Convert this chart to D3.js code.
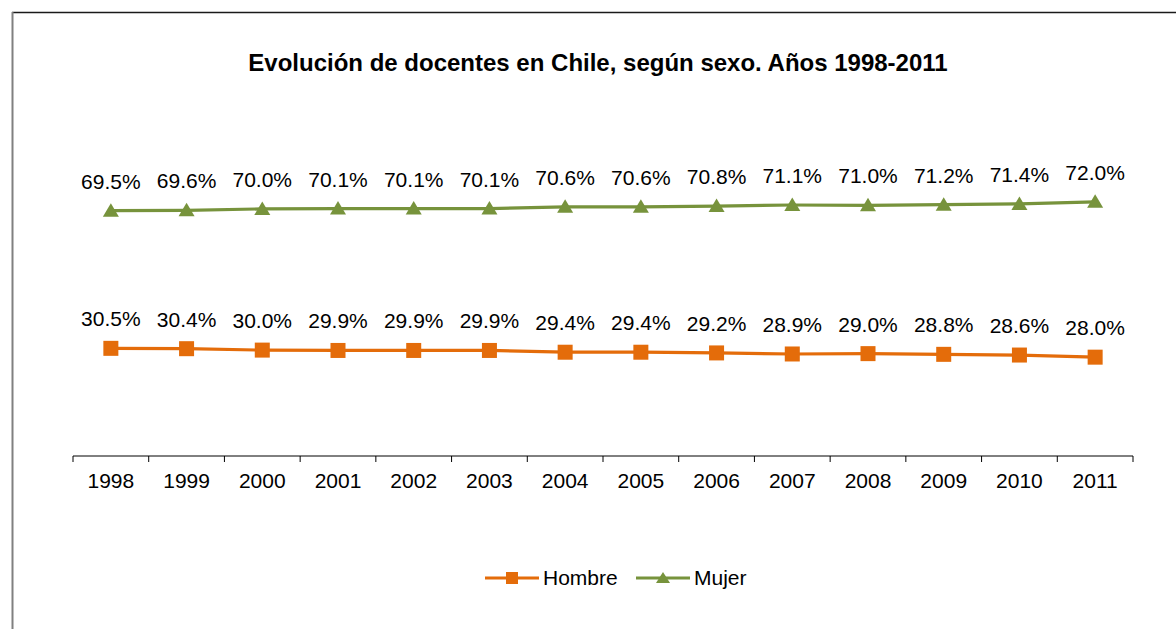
<!DOCTYPE html>
<html>
<head>
<meta charset="utf-8">
<script src="https://cdn.jsdelivr.net/npm/d3@7"></script>
<style>
body { margin: 0; background: #fff; }
text { font-family: "Liberation Sans", Arial, sans-serif; fill: #000; }
</style>
</head>
<body>
<div id="content"></div>
<script>
var years = ["1998","1999","2000","2001","2002","2003","2004","2005","2006","2007","2008","2009","2010","2011"];
var hombre = [30.5, 30.4, 30.0, 29.9, 29.9, 29.9, 29.4, 29.4, 29.2, 28.9, 29.0, 28.8, 28.6, 28.0];
var mujer = [69.5, 69.6, 70.0, 70.1, 70.1, 70.1, 70.6, 70.6, 70.8, 71.1, 71.0, 71.2, 71.4, 72.0];
var seriesNames = ["Hombre", "Mujer"];
var colors = ["#E46C0A", "#77933C"];
var title = "Evolución de docentes en Chile, según sexo. Años 1998-2011";

var W = 1176, H = 629;

var svg = d3.select("#content").append("svg")
	.attr("width", W).attr("height", H);

// chart frame
svg.append("line").attr("x1", 12).attr("y1", 12.5).attr("x2", W).attr("y2", 12.5)
	.style("stroke", "#1a1a1a").style("stroke-width", 1.5);
svg.append("line").attr("x1", 12.5).attr("y1", 12).attr("x2", 12.5).attr("y2", H)
	.style("stroke", "#808080").style("stroke-width", 2);

svg.append("text").attr("x", 598).attr("y", 71)
	.attr("text-anchor", "middle")
	.style("font-size", "24px").style("font-weight", "bold")
	.text(title);

var x = d3.scaleBand().domain(years).range([73, 1133]);
var y = d3.scaleLinear().domain([0, 100]).range([456, 103]);

var xAxis = d3.axisBottom(x).tickSize(0).tickPadding(17);
var gx = svg.append("g").attr("transform", "translate(0,456)").call(xAxis);
gx.select(".domain").remove();
gx.selectAll("text").style("font-size", "21px").attr("font-family", null);

gx.append("line").attr("x1", 73).attr("x2", 1133).attr("y1", 0).attr("y2", 0)
	.style("stroke", "#000").style("stroke-width", 1);
gx.selectAll("line.tk")
	.data(years.concat(["end"]))
	.enter().append("line").attr("class", "tk")
	.attr("x1", function (d, i) { return x.range()[0] + i * x.bandwidth(); })
	.attr("x2", function (d, i) { return x.range()[0] + i * x.bandwidth(); })
	.attr("y1", 0).attr("y2", 6)
	.style("stroke", "#000").style("stroke-width", 1);

var series = [hombre, mujer];
var cx = function (i) { return x(years[i]) + x.bandwidth() / 2; };

var line = d3.line()
	.x(function (d, i) { return cx(i); })
	.y(function (d) { return y(d); });

series.forEach(function (vals, s) {
	var g = svg.append("g").attr("class", "series");
	g.append("path").datum(vals)
		.attr("d", line)
		.style("fill", "none").style("stroke", colors[s]).style("stroke-width", 3.2);

	if (s === 0) {
		g.selectAll("rect").data(vals).enter().append("rect")
			.attr("x", function (d, i) { return cx(i) - 7.5; })
			.attr("y", function (d) { return y(d) - 7.5; })
			.attr("width", 15).attr("height", 15)
			.style("fill", colors[s]);
	} else {
		g.selectAll("path.mk").data(vals).enter().append("path").attr("class", "mk")
			.attr("d", function (d, i) {
				var px = cx(i), py = y(d);
				return "M" + (px - 8) + "," + (py + 6) + "L" + px + "," + (py - 7.5) + "L" + (px + 8) + "," + (py + 6) + "Z";
			})
			.style("fill", colors[s]);
	}

	g.selectAll("text").data(vals).enter().append("text")
		.attr("x", function (d, i) { return cx(i); })
		.attr("y", function (d) { return y(d) - 22; })
		.attr("text-anchor", "middle")
		.style("font-size", "21px")
		.text(function (d) { return d.toFixed(1) + "%"; });
});

// legend
var legendX = [485, 636];
seriesNames.forEach(function (name, s) {
	var lg = svg.append("g").attr("transform", "translate(" + legendX[s] + ",578)");
	lg.append("line").attr("x1", 0).attr("x2", 54).attr("y1", 0).attr("y2", 0)
		.style("stroke", colors[s]).style("stroke-width", 3.2);
	if (s === 0) {
		lg.append("rect").attr("x", 21).attr("y", -6).attr("width", 12).attr("height", 12)
			.style("fill", colors[s]);
	} else {
		lg.append("path").attr("d", "M20,5L27,-6L34,5Z").style("fill", colors[s]);
	}
	lg.append("text").attr("x", 58).attr("y", 7)
		.style("font-size", "21px").text(name);
});
</script>
</body>
</html>
